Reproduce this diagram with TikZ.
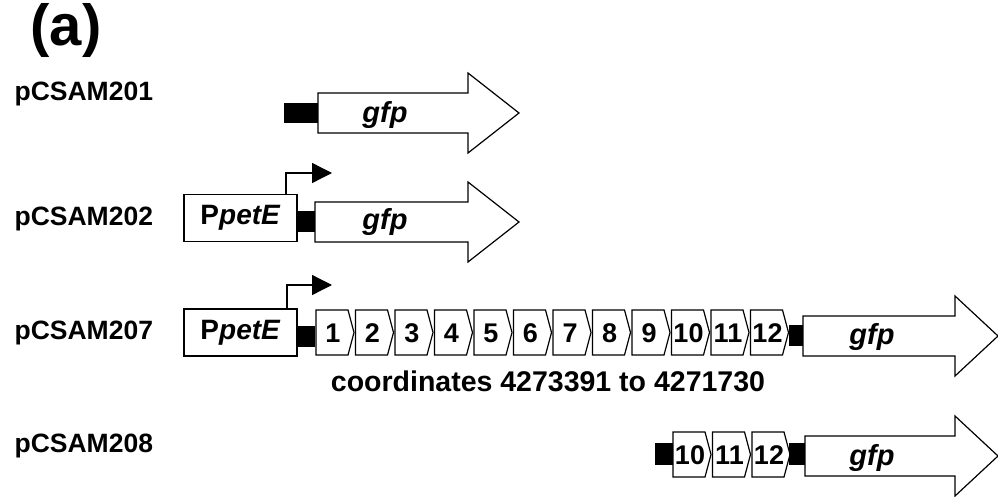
\documentclass[tikz,border=0pt]{standalone}
\usepackage{fontspec}
\setmainfont{Liberation Sans}
\usetikzlibrary{arrows.meta}
\newcommand\mygene[5]{% name, left, top, bottom, label
  \draw[genebody] ({#2},{#3}) -- ({#2+32},{#3}) -- ({#2+38},{(#3+#4)/2}) -- ({#2+32},{#4}) -- ({#2},{#4}) -- cycle;
  \node[genetext] (#1) at ({#2+17},{(#3+#4)/2+1}) {#5};}
\newcommand\mygfp[5]{% name, left, base, tip, centre y
  \draw[genebody] ({#2},{#5-20}) -- ({#3},{#5-20}) -- ({#3},{#5-40}) -- ({#4},{#5}) -- ({#3},{#5+40}) -- ({#3},{#5+20}) -- ({#2},{#5+20}) -- cycle;}
\begin{document}
\begin{tikzpicture}[x=1pt,y=-1pt,line width=1.2pt,
  genebody/.style={draw=black,fill=white,line join=miter},
  blk/.style={fill=black,draw=none},
  genetext/.style={font=\fontsize{27}{30}\selectfont\bfseries,inner sep=0pt},
  gfptext/.style={font=\fontsize{29}{32}\selectfont\bfseries\itshape,inner sep=0pt},
  plabel/.style={font=\fontsize{26.5}{30}\selectfont\bfseries,inner sep=0pt,anchor=west},
  promo/.style={draw=black,fill=white,minimum width=113pt,minimum height=47pt,inner sep=0pt,font=\fontsize{28}{32}\selectfont\bfseries},
  tss/.style={line width=1.3pt,-{Triangle[length=20pt,width=20pt]}}]
\useasboundingbox (0,0) rectangle (998,497);
% title
\node[font=\fontsize{58}{62}\selectfont\bfseries,inner sep=0pt] (title) at (66,31) {(a)};
% labels
\node[plabel] (l1) at (14,94) {pCSAM201};
\node[plabel] (l2) at (14,219) {pCSAM202};
\node[plabel] (l3) at (14,333) {pCSAM207};
\node[plabel] (l4) at (14,446) {pCSAM208};
% row 1
\fill[blk] (284,103) rectangle (318,123);
\mygfp{g1}{318}{468}{519}{113}
\node[gfptext] (t1) at (385,115) {gfp};
% row 2
\node[promo] (p2) at (240.5,218) {P\textit{petE}};
\fill[blk] (298,211) rectangle (315,232);
\mygfp{g2}{315}{468}{519}{222}
\node[gfptext] (t2) at (385,222) {gfp};
\coordinate (s2) at (286,173);
\draw[tss] (286,194.4) -- (s2) -- (332,173);
% row 3
\node[promo] (p3) at (240.5,332.5) {P\textit{petE}};
\fill[blk] (298,326) rectangle (315,347);
\foreach \i in {1,...,12}{
  \pgfmathsetmacro\xl{316+39.5*(\i-1)}
  \mygene{r3g\i}{\xl}{310}{355}{\i}
}
\fill[blk] (789,325) rectangle (803,346);
\mygfp{g3}{803}{955}{998}{336}
\node[gfptext] (t3) at (872,337) {gfp};
\draw[tss] (287,309) -- (287,285) -- (332,285);
\node[font=\fontsize{28.5}{31}\selectfont\bfseries,inner sep=0pt] (coord) at (548,381) {coordinates 4273391 to 4271730};
% row 4
\fill[blk] (655,443) rectangle (673,465);
\foreach \i [count=\k from 0] in {10,11,12}{
  \pgfmathsetmacro\xl{673+39.5*\k}
  \mygene{r4g\i}{\xl}{432}{477}{\i}
}
\fill[blk] (789,443) rectangle (805,465);
\mygfp{g4}{805}{955}{998}{456}
\node[gfptext] (t4) at (872,458) {gfp};
\end{tikzpicture}
\end{document}
